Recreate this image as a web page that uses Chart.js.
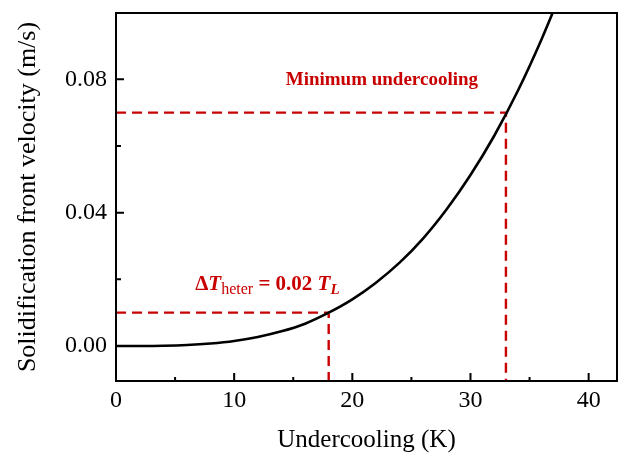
<!DOCTYPE html>
<html>
<head>
<meta charset="utf-8">
<script src="https://cdn.jsdelivr.net/npm/chart.js@4"></script>
<style>
  html, body { margin: 0; padding: 0; background: #fff; }
  #wrap { width: 620px; height: 453px; }
</style>
</head>
<body>
<div id="wrap"><canvas id="chart" width="620" height="453"></canvas></div>
<script>
// undercooling (K) vs solidification front velocity (m/s)
const undercooling = [0, 2, 4, 6, 8, 10, 12, 14, 16, 18, 20, 22, 24, 26, 28, 30, 32, 34, 36, 38];
const velocity = [0, 0.00001, 0.00008, 0.0003, 0.00075, 0.0015, 0.0027, 0.0044, 0.0067, 0.0100, 0.0140, 0.0190, 0.0250, 0.0323, 0.0411, 0.0513, 0.0630, 0.0765, 0.0919, 0.109];

// marker lines: heterogeneous nucleation and minimum undercooling
const heterX = [0, 18, 18];
const heterY = [0.01, 0.01, -0.0105];
const minX = [0, 33, 33];
const minY = [0.07, 0.07, -0.0105];

const xTicks = [0, 10, 20, 30, 40];
const xMinor = [5, 15, 25, 35];
const yTicks = [0, 0.04, 0.08];
const yMinor = [0.02, 0.06];

const RED = "#c80000";
const SERIF = "'Liberation Serif', 'Times New Roman', serif";

const toPts = (xs, ys) => xs.map((x, i) => ({ x: x, y: ys[i] }));

const frame = {
  id: "frame",
  afterDraw(chart) {
    const c = chart.ctx, a = chart.chartArea;
    const sx = chart.scales.x, sy = chart.scales.y;
    c.save();
    c.strokeStyle = "#000";
    c.lineWidth = 2;
    c.strokeRect(a.left, a.top, a.right - a.left, a.bottom - a.top);
    c.beginPath();
    xTicks.forEach(v => { const p = sx.getPixelForValue(v); c.moveTo(p, a.bottom); c.lineTo(p, a.bottom - 8); });
    xMinor.forEach(v => { const p = sx.getPixelForValue(v); c.moveTo(p, a.bottom); c.lineTo(p, a.bottom - 4); });
    yTicks.forEach(v => { const p = sy.getPixelForValue(v); c.moveTo(a.left, p); c.lineTo(a.left + 8, p); });
    yMinor.forEach(v => { const p = sy.getPixelForValue(v); c.moveTo(a.left, p); c.lineTo(a.left + 5, p); });
    c.stroke();

    // annotations
    c.fillStyle = RED;
    c.textBaseline = "alphabetic";
    c.textAlign = "center";
    c.font = "bold 19px " + SERIF;
    c.fillText("Minimum undercooling", sx.getPixelForValue(22.5), sy.getPixelForValue(0.0804) + 7);

    c.textAlign = "left";
    let x = sx.getPixelForValue(6.7);
    const base = sy.getPixelForValue(0.0188) + 7;
    const parts = [
      ["Δ", "bold 21px " + SERIF, 0],
      ["T", "italic bold 21px " + SERIF, 0],
      ["heter", "16px " + SERIF, 4],
      [" = 0.02 ", "bold 21px " + SERIF, 0],
      ["T", "italic bold 21px " + SERIF, 0],
      ["L", "italic bold 15px " + SERIF, 4]
    ];
    parts.forEach(([t, f, dy]) => {
      c.font = f;
      c.fillText(t, x, base + dy);
      x += c.measureText(t).width;
    });
    c.restore();
  }
};

new Chart(document.getElementById("chart"), {
  type: "scatter",
  data: {
    datasets: [
      {
        data: toPts(undercooling, velocity),
        showLine: true,
        borderColor: "#000",
        borderWidth: 2.6,
        pointRadius: 0,
        cubicInterpolationMode: "monotone"
      },
      {
        data: toPts(heterX, heterY),
        showLine: true,
        borderColor: RED,
        borderWidth: 2.4,
        borderDash: [10, 6],
        pointRadius: 0
      },
      {
        data: toPts(minX, minY),
        showLine: true,
        borderColor: RED,
        borderWidth: 2.4,
        borderDash: [10, 6],
        pointRadius: 0
      }
    ]
  },
  options: {
    responsive: false,
    animation: false,
    layout: { padding: { top: 0, right: 3, left: 0, bottom: 0 } },
    plugins: { legend: { display: false }, tooltip: { enabled: false } },
    scales: {
      x: {
        type: "linear",
        min: 0,
        max: 42.4,
        grid: { display: false, drawTicks: false },
        border: { display: false },
        ticks: {
          stepSize: 10,
          includeBounds: false,
          padding: 5,
          color: "#000",
          font: { family: SERIF, size: 24 }
        },
        title: {
          display: true,
          text: "Undercooling (K)",
          color: "#000",
          font: { family: SERIF, size: 25, lineHeight: 1 },
          padding: { top: 0, bottom: 0 }
        },
        afterFit(s) { s.height = 72; }
      },
      y: {
        type: "linear",
        min: -0.0105,
        max: 0.0999,
        grid: { display: false, drawTicks: false },
        border: { display: false },
        ticks: {
          stepSize: 0.04,
          includeBounds: false,
          padding: 9,
          color: "#000",
          font: { family: SERIF, size: 24 },
          callback: v => v.toFixed(2)
        },
        title: {
          display: true,
          text: "Solidification front velocity (m/s)",
          color: "#000",
          font: { family: SERIF, size: 26, lineHeight: 1 },
          padding: { top: 15, bottom: 0 }
        },
        afterFit(s) { s.width = 116; s.paddingTop = 13; s.paddingBottom = 0; }
      }
    }
  },
  plugins: [frame]
});
</script>
</body>
</html>
